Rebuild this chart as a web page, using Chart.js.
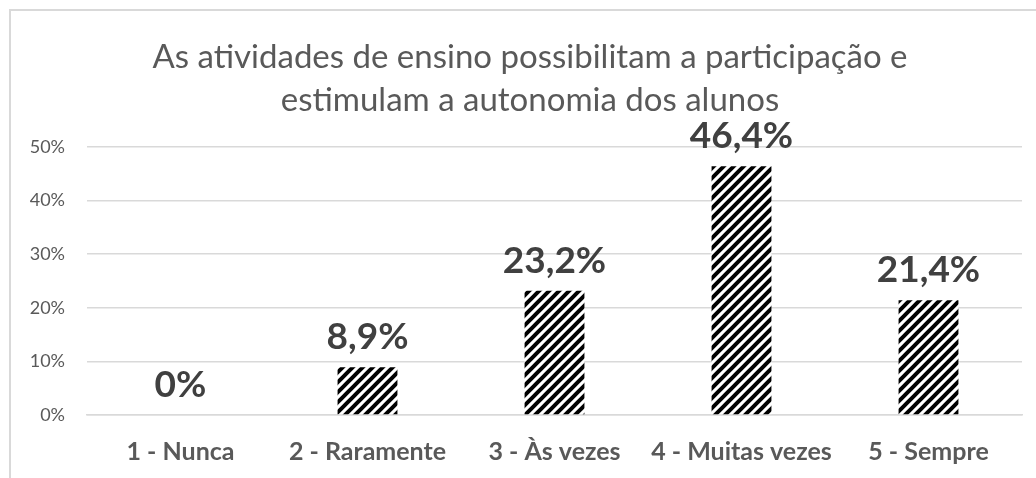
<!DOCTYPE html>
<html lang="pt">

<head>
    <meta charset="UTF-8">
    <title>atividades de ensino</title>
    <script src="https://cdn.jsdelivr.net/npm/chart.js"></script>
    <style>
        body { margin: 0; background: #fff; }
        #wrap { width: 1036px; height: 478px; position: relative; }
    </style>
</head>

<body>
    <div id="wrap">
        <canvas id="barChart"></canvas>
    </div>
    <script>
        // data
        const categories = ['1 - Nunca', '2 - Raramente', '3 - Às vezes', '4 - Muitas vezes', '5 - Sempre'];
        const values = [0, 8.9, 23.2, 46.4, 21.4];
        const valueLabels = ['0%', '8,9%', '23,2%', '46,4%', '21,4%'];
        const titleLines = ['As atividades de ensino possibilitam a participação e', 'estimulam a autonomia dos alunos'];

        const fontName = 'Lato, "Open Sans", sans-serif';

        // diagonal hatch fill
        function makeHatch() {
            const s = 10;
            const tile = document.createElement('canvas');
            tile.width = s;
            tile.height = s;
            const c = tile.getContext('2d');
            c.fillStyle = '#fff';
            c.fillRect(0, 0, s, s);
            c.strokeStyle = '#000';
            c.lineWidth = 4;
            c.beginPath();
            c.moveTo(-2, 2); c.lineTo(2, -2);
            c.moveTo(0, s); c.lineTo(s, 0);
            c.moveTo(s - 2, s + 2); c.lineTo(s + 2, s - 2);
            c.stroke();
            return c.createPattern(tile, 'repeat');
        }

        // frame on top and left, plus the two-line title
        const framePlugin = {
            id: 'frame',
            beforeDraw(chart) {
                const ctx = chart.ctx;
                ctx.save();
                ctx.fillStyle = '#fff';
                ctx.fillRect(0, 0, chart.width, chart.height);
                ctx.strokeStyle = '#d9d9d9';
                ctx.lineWidth = 2;
                ctx.beginPath();
                ctx.moveTo(10, chart.height);
                ctx.lineTo(10, 10);
                ctx.lineTo(chart.width, 10);
                ctx.stroke();

                ctx.font = '33px ' + fontName;
                ctx.fillStyle = '#595959';
                ctx.textAlign = 'center';
                ctx.textBaseline = 'middle';
                titleLines.forEach((line, i) => {
                    ctx.fillText(line, 530, 57 + i * 43);
                });
                ctx.restore();
            }
        };

        // value labels above the bars
        const valuePlugin = {
            id: 'values',
            afterDatasetsDraw(chart) {
                const ctx = chart.ctx;
                const meta = chart.getDatasetMeta(0);
                ctx.save();
                ctx.font = 'bold 37px ' + fontName;
                ctx.fillStyle = '#404040';
                ctx.textAlign = 'center';
                ctx.textBaseline = 'alphabetic';
                meta.data.forEach((bar, i) => {
                    ctx.fillText(valueLabels[i], bar.x, bar.y - 18);
                });
                ctx.restore();
            }
        };

        const ctx = document.getElementById('barChart').getContext('2d');
        new Chart(ctx, {
            type: 'bar',
            data: {
                labels: categories,
                datasets: [{
                    data: values,
                    backgroundColor: makeHatch(),
                    borderWidth: 0,
                    barPercentage: 0.32,
                    categoryPercentage: 1
                }]
            },
            options: {
                responsive: true,
                maintainAspectRatio: false,
                animation: false,
                layout: { padding: { left: 0, right: 14, top: 147, bottom: 0 } },
                plugins: {
                    legend: { display: false },
                    tooltip: { enabled: false },
                    title: { display: false }
                },
                scales: {
                    x: {
                        grid: { display: false, drawTicks: false },
                        border: { display: true, color: '#d9d9d9', width: 1.5 },
                        ticks: {
                            color: '#595959',
                            font: { family: fontName, size: 25, weight: 'bold' },
                            padding: 22
                        },
                        afterFit(scale) { scale.height = 63; }
                    },
                    y: {
                        min: 0,
                        max: 50,
                        grid: { color: '#d9d9d9', lineWidth: 1.5, drawTicks: false },
                        border: { display: false },
                        ticks: {
                            stepSize: 10,
                            color: '#595959',
                            font: { family: fontName, size: 18 },
                            padding: 22,
                            callback: (v) => v + '%'
                        },
                        afterFit(scale) { scale.width = 87; }
                    }
                }
            },
            plugins: [framePlugin, valuePlugin]
        });
    </script>
</body>

</html>
